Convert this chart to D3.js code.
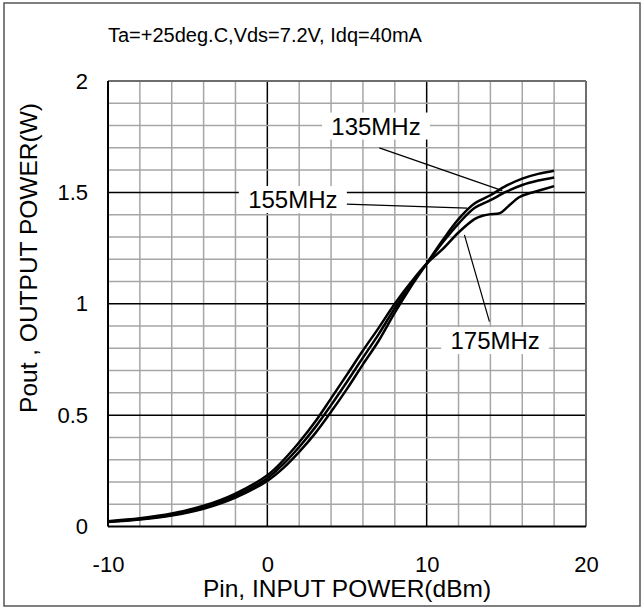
<!DOCTYPE html>
<html>
<head>
<meta charset="utf-8">
<script src="https://cdn.jsdelivr.net/npm/d3@7"></script>
<style>
  body { margin: 0; background: #fff; }
  text { font-family: "Liberation Sans", Arial, sans-serif; fill: #000; }
</style>
</head>
<body>
<script>
// data: Pin (dBm) -> Pout (W)
var pin135 = [-10, -8, -6, -4, -2, 0, 1, 2, 3, 4, 5, 6, 7, 8, 9, 10, 11, 12, 13, 14, 15, 16, 17, 18];
var pout135 = [0.02, 0.031, 0.049, 0.08, 0.13, 0.205, 0.262, 0.335, 0.418, 0.515, 0.618, 0.728, 0.835, 0.96, 1.075, 1.18, 1.285, 1.38, 1.45, 1.487, 1.53, 1.562, 1.583, 1.597];

var pin155 = [-10, -8, -6, -4, -2, 0, 1, 2, 3, 4, 5, 6, 7, 8, 9, 10, 11, 12, 13, 14, 15, 16, 17, 18];
var pout155 = [0.021, 0.034, 0.053, 0.086, 0.138, 0.217, 0.28, 0.357, 0.445, 0.545, 0.65, 0.758, 0.865, 0.98, 1.085, 1.18, 1.275, 1.36, 1.43, 1.465, 1.503, 1.533, 1.553, 1.567];

var pin175 = [-10, -8, -6, -4, -2, 0, 1, 2, 3, 4, 5, 6, 7, 8, 9, 10, 11, 12, 13, 13.5, 14, 14.6, 15.1, 15.8, 16.5, 17, 18];
var pout175 = [0.024, 0.037, 0.058, 0.093, 0.148, 0.23, 0.297, 0.378, 0.47, 0.575, 0.682, 0.79, 0.893, 1.0, 1.095, 1.18, 1.245, 1.32, 1.38, 1.395, 1.402, 1.407, 1.436, 1.478, 1.497, 1.507, 1.528];

var seriesNames = ["135MHz", "155MHz", "175MHz"];
// label position and leader line (start, end) in data units
var labelPin = [6.82, 1.6, 14.3];
var labelPout = [1.80, 1.47, 0.837];
var leaderFrom = [[7.03, 1.70], [4.94, 1.447], [13.94, 0.92]];
var leaderTo = [[14.75, 1.508], [12.55, 1.429], [12.37, 1.309]];

var xTicks = [-10, 0, 10, 20];
var yTicks = [0, 0.5, 1, 1.5, 2];
var titleText = "Ta=+25deg.C,Vds=7.2V, Idq=40mA";

var W = 644, H = 610;
var margin = {top: 81, right: 58, bottom: 83.5, left: 108};
var width = W - margin.left - margin.right,
    height = H - margin.top - margin.bottom;

var svg = d3.select("body").append("svg")
    .attr("width", W)
    .attr("height", H);

svg.append("rect")
    .attr("x", 4).attr("y", 3)
    .attr("width", 636).attr("height", 603)
    .attr("fill", "none")
    .attr("stroke", "#555")
    .attr("stroke-width", 1.5);

var g = svg.append("g")
    .attr("transform", "translate(" + margin.left + "," + margin.top + ")");

var x = d3.scaleLinear().domain([-10, 20]).range([0, width]);
var y = d3.scaleLinear().domain([0, 2]).range([height, 0]);

// grid: every 2 dBm and every 0.1 W, darker on the labelled values
g.selectAll(".vgrid")
    .data(d3.range(-8, 20, 2))
    .enter().append("line")
    .attr("x1", d => x(d)).attr("x2", d => x(d))
    .attr("y1", 0).attr("y2", height)
    .attr("stroke", d => d % 10 === 0 ? "#000" : "#a6a6a6")
    .attr("stroke-width", 1.5);

g.selectAll(".hgrid")
    .data(d3.range(1, 20).map(i => i / 10))
    .enter().append("line")
    .attr("x1", 0).attr("x2", width)
    .attr("y1", d => y(d)).attr("y2", d => y(d))
    .attr("stroke", d => Math.abs(d * 2 - Math.round(d * 2)) < 1e-6 ? "#000" : "#a6a6a6")
    .attr("stroke-width", 1.5);

// frame
g.append("line").attr("x1", 0).attr("x2", width).attr("y1", 0).attr("y2", 0)
    .attr("stroke", "#6e6e6e").attr("stroke-width", 2);
g.append("line").attr("x1", width).attr("x2", width).attr("y1", 0).attr("y2", height)
    .attr("stroke", "#6e6e6e").attr("stroke-width", 2);
g.append("line").attr("x1", 0).attr("x2", 0).attr("y1", 0).attr("y2", height)
    .attr("stroke", "#000").attr("stroke-width", 2);
g.append("line").attr("x1", 0).attr("x2", width).attr("y1", height).attr("y2", height)
    .attr("stroke", "#000").attr("stroke-width", 2);

// axes (labels only)
var xAxis = g.append("g")
    .attr("transform", "translate(0," + height + ")")
    .call(d3.axisBottom(x).tickValues(xTicks).tickSize(0).tickPadding(30).tickFormat(d => String(d)));
xAxis.select(".domain").remove();
xAxis.selectAll("text").style("font-size", "22px").attr("font-family", null);

var yAxis = g.append("g")
    .call(d3.axisLeft(y).tickValues(yTicks).tickSize(0).tickPadding(20).tickFormat(d => String(d)));
yAxis.select(".domain").remove();
yAxis.selectAll("text").style("font-size", "22px").attr("font-family", null);

// curves
var line = d3.line()
    .x(d => x(d[0]))
    .y(d => y(d[1]))
    .curve(d3.curveCatmullRom.alpha(0.5));

var series = [
  d3.zip(pin135, pout135),
  d3.zip(pin155, pout155),
  d3.zip(pin175, pout175)
];

g.selectAll(".curve")
    .data(series)
    .enter().append("path")
    .attr("class", "curve")
    .attr("d", line)
    .attr("fill", "none")
    .attr("stroke", "#000")
    .attr("stroke-width", 2.5);

// callouts
seriesNames.forEach(function(name, i) {
  g.append("line")
    .attr("x1", x(leaderFrom[i][0])).attr("y1", y(leaderFrom[i][1]))
    .attr("x2", x(leaderTo[i][0])).attr("y2", y(leaderTo[i][1]))
    .attr("stroke", "#000").attr("stroke-width", 1.2);
  var cx = x(labelPin[i]), cy = y(labelPout[i]);
  g.append("rect")
    .attr("x", cx - 54).attr("y", cy - 13)
    .attr("width", 108).attr("height", 27)
    .attr("fill", "#fff");
  g.append("text")
    .attr("x", cx).attr("y", cy + 9)
    .attr("text-anchor", "middle")
    .style("font-size", "24px")
    .text(name);
});

// titles
svg.append("text")
    .attr("x", 108).attr("y", 42)
    .style("font-size", "20px")
    .text(titleText);

svg.append("text")
    .attr("x", margin.left + width / 2).attr("y", 597)
    .attr("text-anchor", "middle")
    .style("font-size", "24.5px")
    .text("Pin, INPUT POWER(dBm)");

svg.append("text")
    .attr("transform", "translate(37,258) rotate(-90)")
    .attr("text-anchor", "middle")
    .style("font-size", "24.5px")
    .text("Pout , OUTPUT POWER(W)");
</script>
</body>
</html>
